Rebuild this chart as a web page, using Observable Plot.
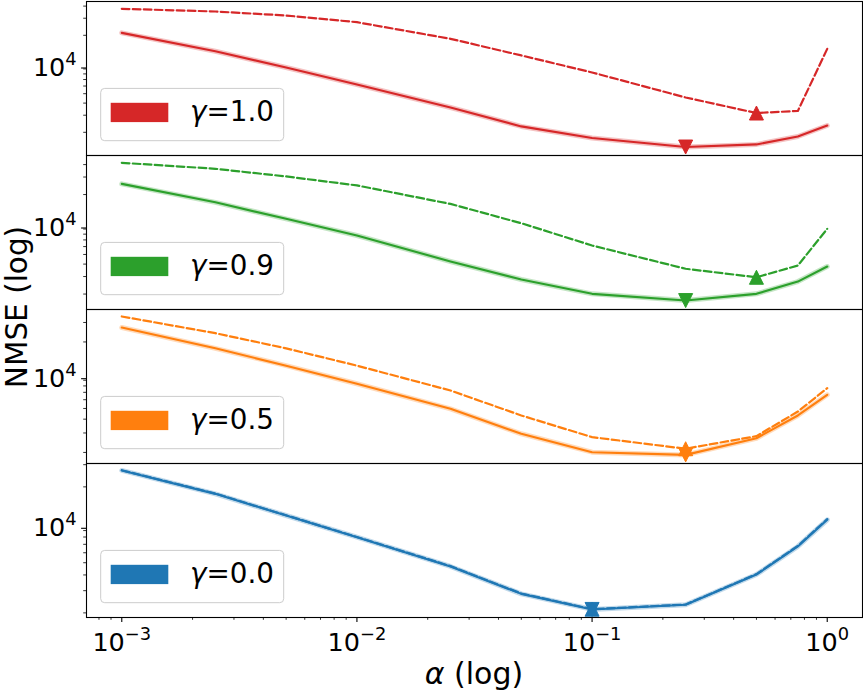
<!DOCTYPE html>
<html><head><meta charset="utf-8">
<script src="https://cdn.jsdelivr.net/npm/d3@7"></script>
<script src="https://cdn.jsdelivr.net/npm/@observablehq/plot@0.6"></script>
<style>
html,body{margin:0;padding:0;background:#fff;}
#wrap{position:relative;width:863px;height:693px;overflow:hidden;font-family:"DejaVu Sans";}
</style></head><body><div id="wrap"></div>
<script>
// ---- data ----
const alphas = [0.001, 0.0025, 0.005, 0.01, 0.025, 0.05, 0.1, 0.25, 0.5, 0.75, 1.0];
const gammaLabels = ["1.0", "0.9", "0.5", "0.0"];
const gammaColors = ["#d62728", "#2ca02c", "#ff7f0e", "#1f77b4"];

const solidG10  = [21200, 13700, 9310, 6220, 3600, 2300, 1750, 1410, 1500, 1810, 2350];
const dashedG10 = [37500, 35200, 32000, 27300, 18400, 12400, 8280, 4570, 3160, 3320, 14500];
const solidG09  = [25600, 16700, 11400, 7750, 4250, 2800, 2010, 1720, 2010, 2670, 3780];
const dashedG09 = [41700, 36300, 30400, 24700, 16100, 10300, 6150, 3590, 2950, 3870, 9050];
const solidG05  = [27000, 17500, 12200, 8360, 4960, 2950, 2010, 1900, 2690, 4320, 6650];
const dashedG05 = [34000, 24000, 17500, 12200, 7270, 4320, 2750, 2160, 2810, 4690, 7630];
const solidG00  = [27000, 17600, 11850, 7970, 4670, 2830, 2130, 2320, 4030, 6730, 10960];
const dashedG00 = [27100, 17700, 11900, 8000, 4700, 2850, 2140, 2330, 4060, 6800, 11100];

const yDomainG10 = [1153, 44620];
const yDomainG09 = [1399, 49370];
const yDomainG05 = [1588, 39320];
const yDomainG00 = [1838, 30650];
const xDomain = [Math.pow(10, -3.15), Math.pow(10, 0.15)];

const xMajorTicks = [0.001, 0.01, 0.1, 1];
const xTickLabels = ["10^\u22123", "10^\u22122", "10^\u22121", "10^0"];
const yMajorTicks = [10000];
const yTickLabels = ["10^4"];

const solids = [solidG10, solidG09, solidG05, solidG00];
const dasheds = [dashedG10, dashedG09, dashedG05, dashedG00];
const yDomains = [yDomainG10, yDomainG09, yDomainG05, yDomainG00];

// ---- symbols (matplotlib-like triangles centred on bbox) ----
const triUp = {draw(ctx, size) { const s = Math.sqrt(size / Math.PI); ctx.moveTo(0, -s); ctx.lineTo(s, s); ctx.lineTo(-s, s); ctx.closePath(); }};
const triDown = {draw(ctx, size) { const s = Math.sqrt(size / Math.PI); ctx.moveTo(0, s); ctx.lineTo(s, -s); ctx.lineTo(-s, -s); ctx.closePath(); }};

const wrap = document.getElementById("wrap");
const panelTops = [1, 155, 309, 463];
const panelH = 154;
const FS = 25.5;

function minorTicks(domain, decades) {
  const out = [];
  for (const dec of decades) for (let m = 2; m <= 9; m++) { const v = m * dec; if (v >= domain[0] && v <= domain[1]) out.push(v); }
  return out;
}
function supify(svg) {
  svg.querySelectorAll('g[aria-label$="tick label"] text').forEach(el => {
    const t = el.textContent;
    if (!t.includes("^")) return;
    const [base, sup] = t.split("^");
    el.textContent = base;
    const ts = document.createElementNS("http://www.w3.org/2000/svg", "tspan");
    ts.setAttribute("font-size", (FS * 0.7).toFixed(2));
    ts.setAttribute("dy", "-11");
    ts.textContent = sup;
    el.appendChild(ts);
  });
}

const xMinor = minorTicks(xDomain, [1e-4, 1e-3, 1e-2, 1e-1, 1]);

for (let i = 0; i < 4; i++) {
  const last = i === 3;
  const top = panelTops[i] - 1;
  const height = last ? 693 - top : panelH + 2;
  const marginBottom = height - 1 - panelH;
  const color = gammaColors[i];
  const solid = solids[i], dashed = dasheds[i];
  const rows = alphas.map((a, k) => ({a, s: solid[k], d: dashed[k]}));
  const iS = d3.minIndex(solid), iD = d3.minIndex(dashed);
  const yMinor = minorTicks(yDomains[i], [100, 1000, 10000]);
  const marks = [
    Plot.line(rows, {x: "a", y: "s", stroke: color, strokeWidth: 5, strokeOpacity: 0.28}),
    Plot.line(rows, {x: "a", y: "s", stroke: color, strokeWidth: 2.1}),
    Plot.line(rows, {x: "a", y: "d", stroke: color, strokeWidth: 2.2, strokeDasharray: "7.7,3.3"}),
    Plot.dot([rows[iS]], {x: "a", y: "s", r: 7, symbol: triDown, fill: color, stroke: color, strokeWidth: 1}),
    Plot.dot([rows[iD]], {x: "a", y: "d", r: 7, symbol: triUp, fill: color, stroke: color, strokeWidth: 1}),
    Plot.axisY({ticks: yMajorTicks, tickFormat: v => yTickLabels[yMajorTicks.indexOf(v)], tickSize: 4.9, tickPadding: 4.9, fontSize: FS, dy: 3.5, strokeWidth: 1.1, label: null}),
    Plot.axisY({ticks: yMinor, tickFormat: () => "", tickSize: 2.8, strokeWidth: 0.8, label: null})
  ];
  if (last) {
    marks.push(
      Plot.axisX({ticks: xMajorTicks, tickFormat: v => xTickLabels[xMajorTicks.indexOf(v)], tickSize: 4.9, tickPadding: 10, fontSize: FS, strokeWidth: 1.1, label: null}),
      Plot.axisX({ticks: xMinor, tickFormat: () => "", tickSize: 2.8, strokeWidth: 0.8, label: null})
    );
  }
  marks.push(Plot.frame({stroke: "black", strokeWidth: 1.1}));
  const chart = Plot.plot({
    width: 863, height,
    marginLeft: 86, marginRight: 1, marginTop: 1, marginBottom,
    x: {type: "log", domain: xDomain, label: null, axis: last ? undefined : null},
    y: {type: "log", domain: yDomains[i], label: null},
    style: {fontFamily: "DejaVu Sans", fontSize: FS + "px", background: "none", overflow: "visible", color: "black"},
    marks
  });
  supify(chart);
  chart.style.position = "absolute";
  chart.style.left = "0px";
  chart.style.top = top + "px";
  wrap.appendChild(chart);
}

// ---- overlay: legends and axis titles ----
const ov = d3.select(wrap).append("svg")
  .attr("width", 863).attr("height", 693)
  .style("position", "absolute").style("left", "0px").style("top", "0px")
  .attr("font-family", "DejaVu Sans");
for (let i = 0; i < 4; i++) {
  const bottom = panelTops[i] + panelH;
  const g = ov.append("g").attr("transform", `translate(100.7,${bottom - 14.3 - 52.3})`);
  g.append("rect").attr("width", 183).attr("height", 52.3).attr("rx", 4)
    .attr("fill", "white").attr("fill-opacity", 0.8).attr("stroke", "#cccccc").attr("stroke-width", 1);
  g.append("rect").attr("x", 10).attr("y", 14.4).attr("width", 57.6).attr("height", 19.3).attr("fill", gammaColors[i]);
  const t = g.append("text").attr("x", 89.3).attr("y", 32.8).attr("font-size", 27.8).attr("fill", "black");
  t.append("tspan").attr("font-style", "italic").text("\u03b3");
  t.append("tspan").text("=" + gammaLabels[i]);
}
ov.append("text").attr("transform", "translate(27,307) rotate(-90)").attr("text-anchor", "middle")
  .attr("font-size", 29.5).attr("fill", "black").text("NMSE (log)");
const xl = ov.append("text").attr("x", 474).attr("y", 684).attr("text-anchor", "middle").attr("font-size", 30).attr("fill", "black");
xl.append("tspan").attr("font-style", "italic").text("\u03b1");
xl.append("tspan").text(" (log)");
</script></body></html>
